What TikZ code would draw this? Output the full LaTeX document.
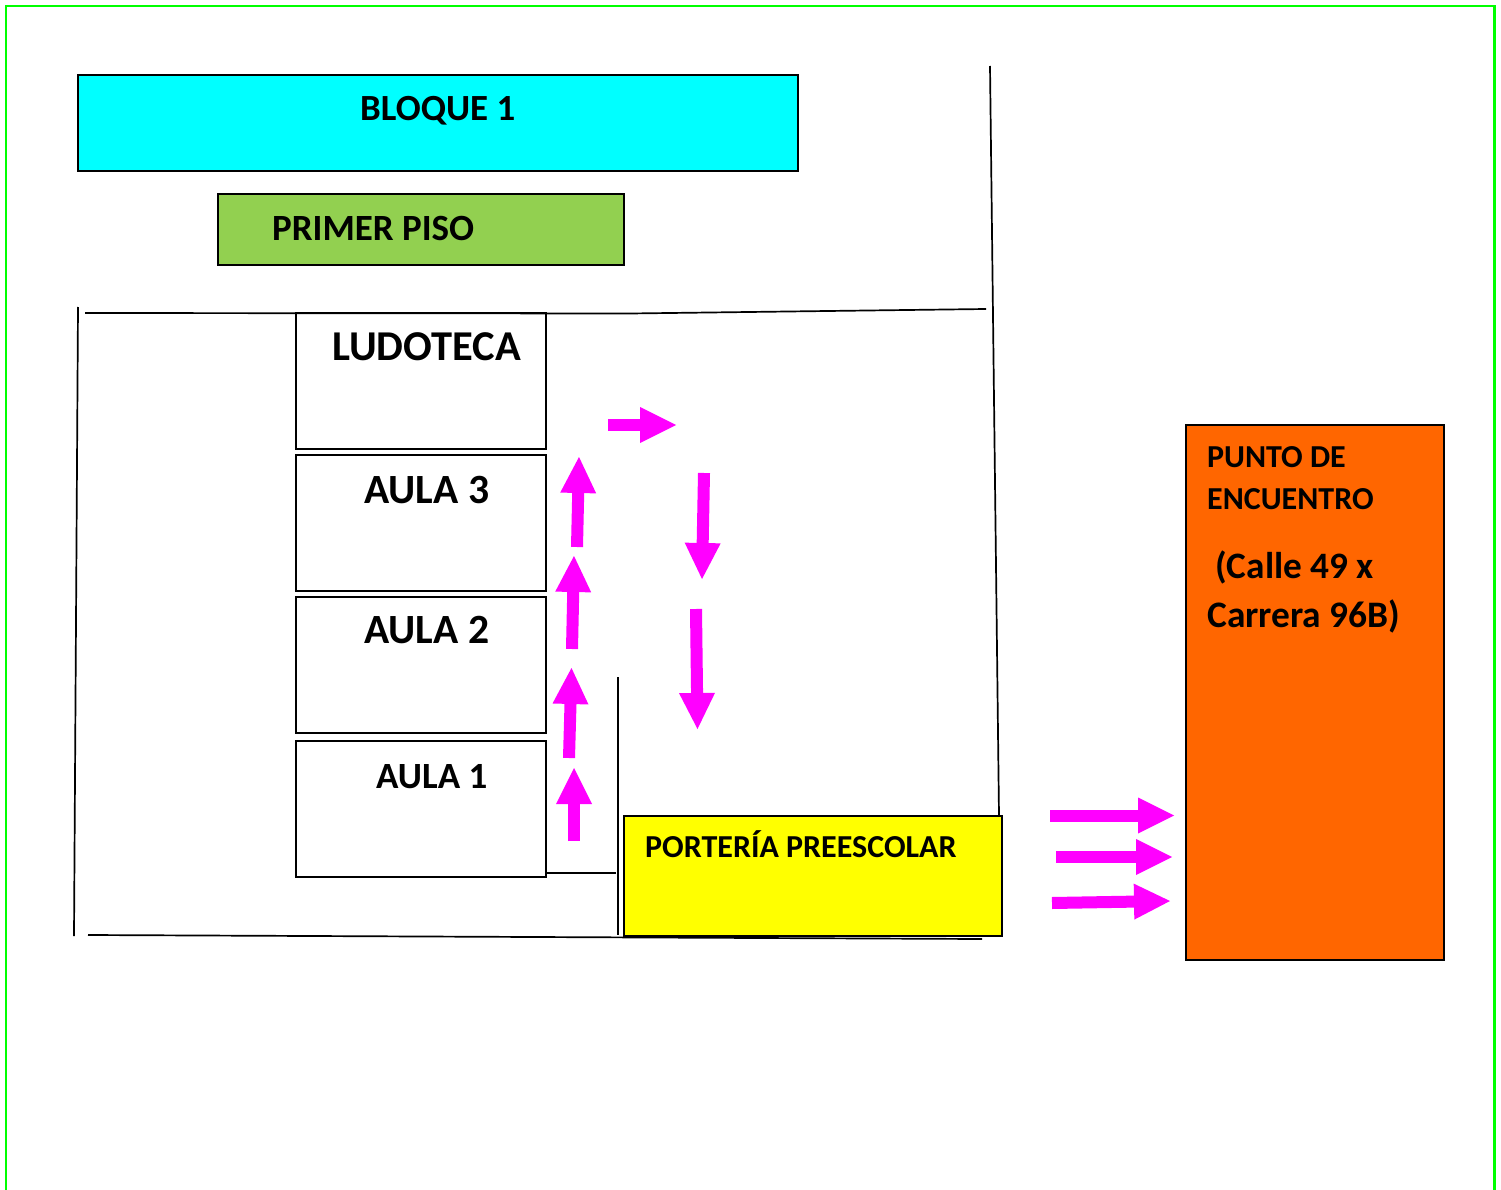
\documentclass[tikz,border=0pt]{standalone}
\usepackage{fontspec}
\setmainfont{Carlito}
\usetikzlibrary{arrows.meta}
\definecolor{fcyan}{HTML}{00FFFF}
\definecolor{fgreen}{HTML}{92D050}
\definecolor{forange}{HTML}{FF6600}
\definecolor{fyellow}{HTML}{FFFF00}
\definecolor{fmag}{HTML}{FF00FF}
\definecolor{fborder}{HTML}{00FF00}
\tikzset{
  x=1pt,y=-1pt,
  room/.style={draw=black,line width=1.8pt,fill=#1,inner sep=0pt,anchor=north west},
  room/.default=white,
  wall/.style={draw=black,line width=1.7pt},
  flow/.style={draw=fmag,line width=12pt,-{Triangle[length=36pt,width=36pt,line width=0pt,fill=fmag]}},
  label/.style={anchor=base west,inner sep=0pt},
}
\newcommand{\roomat}[6]{\node[room=#6,minimum width=#4pt,minimum height=#5pt] (#1) at (#2,#3) {};}
\newcommand{\sz}[1]{\bfseries\fontsize{#1}{#1}\selectfont}
\begin{document}
\begin{tikzpicture}
\useasboundingbox (0,0) rectangle (1501,1190);
\draw[fborder,line width=2.4pt] (6.2,1190) -- (6.2,6.2) -- (1494.3,6.2) -- (1494.3,1190);
% rooms
\roomat{bloque}{77}{74}{720}{96}{fcyan}
\roomat{piso}{217}{193}{406}{71}{fgreen}
\roomat{ludoteca}{295}{312}{250}{136}{white}
\roomat{aulat}{295}{454}{250}{136}{white}
\roomat{aulad}{295}{596}{250}{136}{white}
\roomat{aulau}{295}{740}{250}{136}{white}
\roomat{porteria}{623}{815}{378}{120}{fyellow}
\roomat{punto}{1185}{424}{258}{535}{forange}
% walls
\coordinate (a1) at (85,313); \coordinate (a2) at (630,313.5); \coordinate (a3) at (986,309);
\coordinate (b1) at (78,307); \coordinate (b2) at (74,936);
\coordinate (c1) at (88,935); \coordinate (c2) at (982,939);
\coordinate (d1) at (990,66); \coordinate (d2) at (999,816);
\coordinate (e1) at (618,677); \coordinate (e2) at (618,935);
\coordinate (f1) at (546,873); \coordinate (f2) at (616,873);
\draw[wall] (a1) -- (a2) -- (a3);
\draw[wall] (b1) -- (b2);
\draw[wall] (c1) -- (c2);
\draw[wall] (d1) -- (d2);
\draw[wall] (e1) -- (e2);
\draw[wall] (f1) -- (f2);
% arrows
\foreach \n/\xa/\ya/\xb/\yb in {
 p/608/425/676/425, q/704/473/702/579, r/696/609/697.5/729,
 s/577/547/579/457, t/572/649/574/556, u/569/758/571.5/668, v/574/841/574/768,
 w/1050/815.5/1174/815.5, y/1056/857/1172/857, z/1052/903/1170/901}{
 \coordinate (\n1) at (\xa,\ya); \coordinate (\n2) at (\xb,\yb);
 \draw[flow] (\n1) -- (\n2);
}
% labels
\node[label,font=\sz{36.9}] (tbloque) at (360,120.5) {BLOQUE 1};
\node[label,font=\sz{37}] (tpiso) at (272,240.7) {PRIMER PISO};
\node[label,font=\sz{42.5}] (tlud) at (332,360.3) {LUDOTECA};
\node[label,font=\sz{41.6}] (tat) at (364,503) {AULA 3};
\node[label,font=\sz{41.6}] (tad) at (364,643) {AULA 2};
\node[label,font=\sz{37}] (tau) at (376,788) {AULA 1};
\node[label,font=\sz{32}] (tpo) at (645,857) {PORTERÍA PREESCOLAR};
\node[label,font=\sz{32}] (tpa) at (1207,467) {PUNTO DE};
\node[label,font=\sz{32}] (tpb) at (1207,509) {ENCUENTRO};
\node[label,font=\sz{37.3}] (tpc) at (1215,578.2) {(Calle 49 x};
\node[label,font=\sz{37.4}] (tpd) at (1207,627.2) {Carrera 96B)};
\end{tikzpicture}
\end{document}
